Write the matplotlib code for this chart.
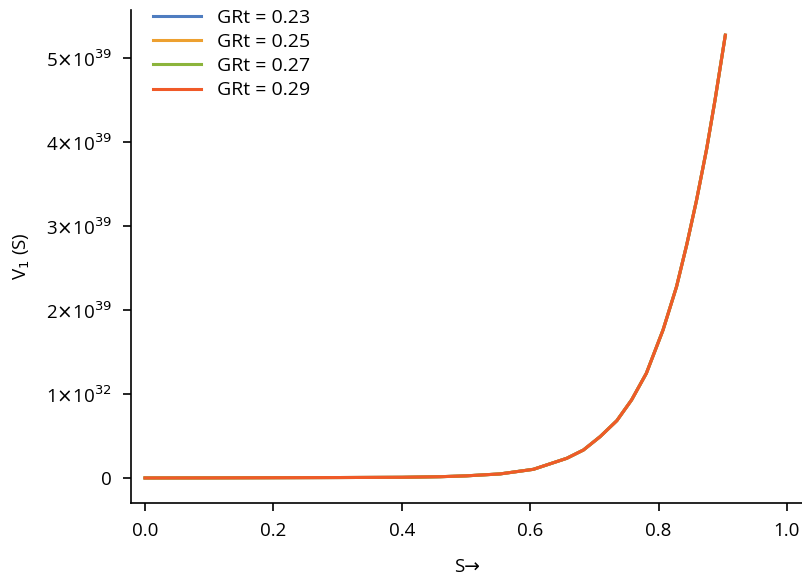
import matplotlib
matplotlib.use("Agg")
import matplotlib.pyplot as plt

plt.rcParams['font.family'] = ['Open Sans', 'DejaVu Sans']

s_vals = [0, 0.1, 0.2, 0.3, 0.4, 0.46, 0.5, 0.553, 0.605, 0.657, 0.683, 0.709,
          0.735, 0.758, 0.781, 0.807, 0.828, 0.844, 0.859, 0.875, 0.888, 0.904]
v_023 = [0, 0.001, 0.003, 0.005, 0.008, 0.015, 0.025, 0.048, 0.103, 0.234, 0.333,
         0.492, 0.682, 0.929, 1.246, 1.762, 2.277, 2.78, 3.30, 3.92, 4.50, 5.27]
v_025 = list(v_023)
v_027 = list(v_023)
v_029 = list(v_023)
labels = ['GRt = 0.23', 'GRt = 0.25', 'GRt = 0.27', 'GRt = 0.29']
colors = ['#4f7dc0', '#eda030', '#8cb43c', '#f05a28']
scale = 1e39
yticks = [0, 1, 2, 3, 4, 5]
ytick_labels = ['0', r'1$\times$10$^{32}$', r'2$\times$10$^{39}$',
                r'3$\times$10$^{39}$', r'4$\times$10$^{39}$', r'5$\times$10$^{39}$']
xticks = [0.0, 0.2, 0.4, 0.6, 0.8, 1.0]

fig = plt.figure(figsize=(8.03, 5.79), dpi=100)
ax = fig.add_axes([131/803, (579-503)/579, 1-131/803, (503-10)/579])

for vals, lab, c in zip([v_023, v_025, v_027, v_029], labels, colors):
    ax.plot(s_vals, [v*scale for v in vals], color=c, lw=2.2, label=lab)

ax.set_xlim(-0.0218, 1.025)
ax.set_ylim(-0.298*scale, 5.57*scale)
ax.set_xticks(xticks)
ax.set_xticklabels([f'{t:.1f}' for t in xticks])
ax.set_yticks([t*scale for t in yticks])
ax.set_yticklabels(ytick_labels)
ax.tick_params(labelsize=13.5, length=6, width=1.2, direction='out', pad=8)
for sp in ['top', 'right']:
    ax.spines[sp].set_visible(False)
for sp in ['left', 'bottom']:
    ax.spines[sp].set_linewidth(1.2)

ax.set_xlabel('S→', fontsize=13.5, labelpad=13)
ax.set_ylabel('V$_1$ (S)', fontsize=13.5, labelpad=10)

ax.legend(loc='upper left', bbox_to_anchor=(0.012, 1.03), frameon=False, fontsize=14,
          handlelength=2.5, handletextpad=0.8, labelspacing=0.32, borderaxespad=0.3)

fig.savefig('out.png', dpi=100)
